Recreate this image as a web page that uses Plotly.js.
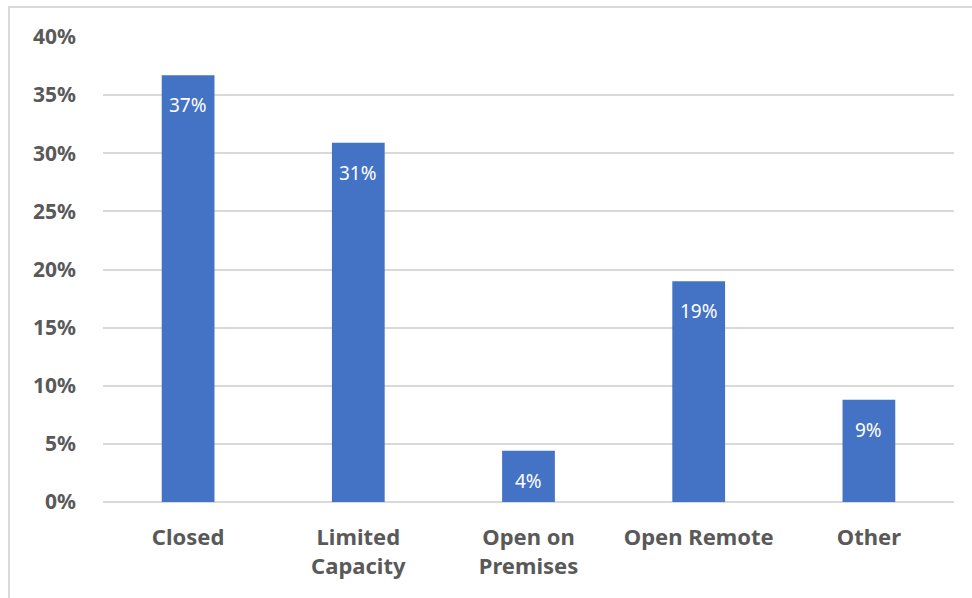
<!DOCTYPE html>
<html>
<head>
<meta charset="utf-8">
<script src="https://cdn.plot.ly/plotly-3.0.1.min.js"></script>
<style>
  html, body { margin: 0; padding: 0; background: #ffffff; }
  #wrap { position: relative; width: 972px; height: 598px; overflow: hidden; }
  #frame { position: absolute; left: 8px; top: 6px; width: 1100px; height: 800px;
           border: 2px solid #d9d9d9; box-sizing: border-box; pointer-events: none; }
  #chart { position: absolute; left: 0; top: 0; width: 972px; height: 598px; }
</style>
</head>
<body>
<div id="wrap">
  <div id="frame"></div>
  <div id="chart"></div>
</div>
<script>
const categories = ["Closed", "Limited<br>Capacity", "Open on<br>Premises", "Open Remote", "Other"];
const values = [36.7, 30.9, 4.4, 19.0, 8.8];
const yTickVals = [0, 5, 10, 15, 20, 25, 30, 35, 40];
const yTickText = ["0%", "5%", "10%", "15%", "20%", "25%", "30%", "35%", "40%"];

const labels = values.map(v => Math.round(v) + "%");

const trace = {
  type: "bar",
  x: categories,
  y: values,
  marker: { color: "#4472C4" },
  width: 0.31,
  hoverinfo: "skip",
  showlegend: false
};

const annotations = values.map((v, i) => ({
  x: categories[i],
  y: v,
  xref: "x",
  yref: "y",
  text: labels[i],
  showarrow: false,
  yanchor: "top",
  yshift: -15,
  font: { family: "Noto Sans, Open Sans, sans-serif", size: 19, color: "#ffffff" }
}));

const layout = {
  width: 972,
  height: 598,
  margin: { l: 103, r: 18, t: 37, b: 96, pad: 0 },
  paper_bgcolor: "rgba(0,0,0,0)",
  plot_bgcolor: "rgba(0,0,0,0)",
  bargap: 0.69,
  xaxis: {
    type: "category",
    showgrid: false,
    showline: false,
    zeroline: false,
    ticks: "",
    tickfont: { family: "Noto Sans, Open Sans, sans-serif", size: 22, color: "#595959", weight: "bold" },
    ticklabelstandoff: 20
  },
  yaxis: {
    range: [0, 40],
    tickvals: yTickVals,
    ticktext: yTickText,
    showgrid: true,
    gridcolor: "#d9d9d9",
    gridwidth: 2,
    zeroline: true,
    zerolinecolor: "#d9d9d9",
    zerolinewidth: 2,
    showline: false,
    ticks: "",
    tickfont: { family: "Noto Sans, Open Sans, sans-serif", size: 21, color: "#595959", weight: "bold" },
    ticklabelstandoff: 26
  },
  annotations: annotations
};

Plotly.newPlot("chart", [trace], layout, { displayModeBar: false, staticPlot: true });
</script>
</body>
</html>
